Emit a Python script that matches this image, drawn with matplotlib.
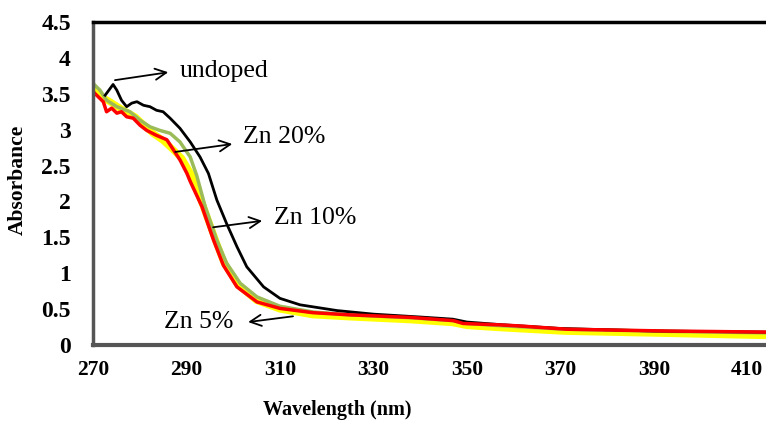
import matplotlib
matplotlib.use('Agg')
import matplotlib.pyplot as plt
import numpy as np

#------------------------------------------------------------------------------
# data
wl_undoped = [272.6, 274.3, 275.1, 276.1, 277.2, 278.3, 279.4, 280.8, 282.2, 283.6,
              285.0, 286.5, 288.6, 290.8, 292.9, 294.7, 296.5, 298.6, 300.8, 302.9,
              306.5, 310.0, 314.3, 322.2, 330, 340, 347, 350, 357, 370, 390, 414]
abs_undoped = [3.48, 3.63, 3.55, 3.41, 3.32, 3.37, 3.39, 3.34, 3.32, 3.27,
               3.25, 3.16, 3.02, 2.83, 2.62, 2.39, 2.02, 1.69, 1.37, 1.09,
               0.81, 0.65, 0.56, 0.48, 0.43, 0.39, 0.36, 0.32, 0.285, 0.23, 0.195, 0.18]

wl_zn20 = [270.4, 271.5, 272.9, 275.1, 277.9, 280.1, 282.2, 284.3, 286.5, 288.6,
           290.8, 292.2, 294.0, 296.5, 298.6, 301.5, 305.1, 310.0, 317.1, 325,
           338, 347, 350, 357, 371, 393, 414]
abs_zn20 = [3.62, 3.55, 3.41, 3.32, 3.25, 3.13, 3.04, 2.99, 2.95, 2.83,
            2.62, 2.36, 1.93, 1.46, 1.14, 0.86, 0.67, 0.54, 0.46, 0.42,
            0.38, 0.34, 0.30, 0.27, 0.22, 0.19, 0.17]

wl_zn10 = [270, 272, 273.6, 276.5, 279, 282.8, 285, 287, 289, 291,
           293.5, 296, 298, 301, 305, 310, 317, 325, 338, 347,
           350, 357, 371, 393, 414]
abs_zn10 = [3.58, 3.45, 3.39, 3.27, 3.18, 2.95, 2.85, 2.73, 2.60, 2.38,
            1.95, 1.50, 1.15, 0.84, 0.62, 0.50, 0.42, 0.39, 0.35, 0.31,
            0.27, 0.24, 0.19, 0.16, 0.13]

wl_zn5 = [270, 272.2, 272.9, 274.0, 275.1, 276.1, 277.2, 278.6, 280.1, 281.5,
          283.6, 285.8, 287.2, 288.6, 290.1, 290.8, 293.3, 295.8, 297.9, 300.8,
          305.1, 310.0, 317.1, 325, 337.9, 347.1, 349.2, 357.2, 361.4, 371.4,
          392.8, 414]
abs_zn5 = [3.53, 3.39, 3.25, 3.30, 3.23, 3.25, 3.18, 3.16, 3.06, 2.99,
           2.92, 2.86, 2.72, 2.58, 2.39, 2.28, 1.93, 1.46, 1.11, 0.81,
           0.60, 0.51, 0.45, 0.42, 0.385, 0.34, 0.30, 0.28, 0.265, 0.22,
           0.195, 0.18]

xticks = [270, 290, 310, 330, 350, 370, 390, 410]
yticks = [0, 0.5, 1, 1.5, 2, 2.5, 3, 3.5, 4, 4.5]
ytick_labels = ['0', '0.5', '1', '1.5', '2', '2.5', '3', '3.5', '4', '4.5']

#------------------------------------------------------------------------------
plt.rcParams['font.family'] = ['Liberation Serif', 'DejaVu Serif']

fig = plt.figure(figsize=(7.66, 4.21), dpi=100)
ax = fig.add_axes([0.1214, 0.1805, 0.8786, 0.7672])

ax.plot(wl_zn10, abs_zn10, color='#FFFF00', linewidth=5, solid_capstyle='butt')
ax.plot(wl_zn20, abs_zn20, color='#9BBB59', linewidth=2.5)
ax.plot(wl_undoped, abs_undoped, color='black', linewidth=2)
ax.plot(wl_zn5, abs_zn5, color='#FF0000', linewidth=2.5)

ax.set_xlim(270, 414)
ax.set_ylim(0, 4.5)
ax.set_xticks(xticks)
ax.set_yticks(yticks)
ax.set_yticklabels(ytick_labels)
ax.tick_params(length=0)
ax.tick_params(axis='y', pad=16, labelsize=17)
ax.tick_params(axis='x', pad=11, labelsize=15.5)
for lab in ax.get_xticklabels() + ax.get_yticklabels():
    lab.set_fontweight('bold')

#-------------- frame ---------------------------------------------------------
ax.spines['right'].set_visible(False)
ax.spines['top'].set_color('black')
ax.spines['top'].set_linewidth(2.5)
ax.spines['left'].set_color('#555555')
ax.spines['left'].set_linewidth(2.5)
ax.spines['bottom'].set_color('#555555')
ax.spines['bottom'].set_linewidth(3)

#-------------- labels --------------------------------------------------------
ax.set_xlabel('Wavelength (nm)', fontsize=14.5, fontweight='bold')
ax.set_ylabel('Absorbance', fontsize=15.5, fontweight='bold')
ax.xaxis.set_label_coords(0.3626, -0.170)
ax.yaxis.set_label_coords(-0.097, 0.511)

#-------------- arrows + names ------------------------------------------------
arr = dict(arrowstyle='->', color='black', lw=1.3, mutation_scale=20,
           shrinkA=0, shrinkB=0)
ax.annotate('', xy=(286.1, 3.80), xytext=(274.7, 3.69), arrowprops=arr)
ax.text(288.6, 3.82, 'undoped', fontsize=18.5, va='center', ha='left')

ax.annotate('', xy=(299.8, 2.80), xytext=(287.6, 2.69), arrowprops=arr)
ax.text(302.1, 2.90, 'Zn 20%', fontsize=18.5, va='center', ha='left')

ax.annotate('', xy=(306.2, 1.73), xytext=(295.7, 1.64), arrowprops=arr)
ax.text(308.8, 1.77, 'Zn 10%', fontsize=18.5, va='center', ha='left')

ax.annotate('', xy=(303.2, 0.32), xytext=(312.8, 0.40), arrowprops=arr)
ax.text(300.0, 0.32, 'Zn 5%', fontsize=18.5, va='center', ha='right')

plt.savefig('out.png', dpi=100)
